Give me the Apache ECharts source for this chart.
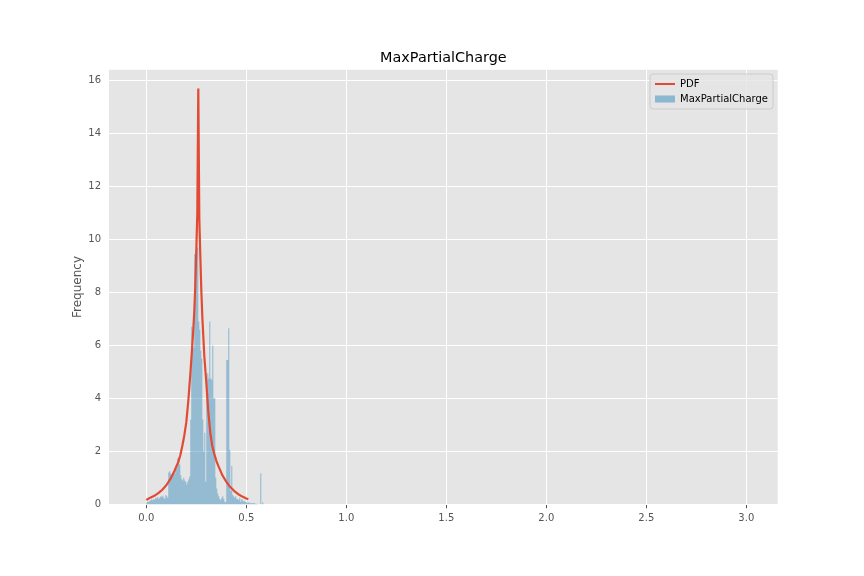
<!DOCTYPE html>
<html>
<head>
<meta charset="utf-8">
<script src="https://cdn.jsdelivr.net/npm/echarts@6/dist/echarts.min.js"></script>
<style>html,body{margin:0;padding:0;background:#fff;}#c{width:864px;height:576px;}</style>
</head>
<body>
<div id="c"></div>
<script>
// ---- data ----
const titleText = 'MaxPartialCharge';
const yAxisName = 'Frequency';
const histName = 'MaxPartialCharge';
const pdfName = 'PDF';
const binStart = 0.0;
const binWidth = 0.005;
const binHeights = [
  0.08,0.10,0.10,0.12,0.15,0.18,0.15,0.20,0.17,0.25,
  0.22,0.28,0.20,0.25,0.30,0.28,0.32,0.25,0.20,0.35,
  0.30,0.25,1.20,1.25,1.15,1.10,1.10,1.20,1.15,1.30,
  1.35,1.75,1.75,1.50,1.10,0.95,0.90,1.00,0.90,0.85,
  0.75,0.85,0.95,1.05,3.20,6.70,5.95,5.90,9.45,9.45,
  9.70,9.70,6.90,6.60,5.80,5.50,3.20,2.00,2.70,0.85,
  4.70,4.95,4.75,6.90,4.75,4.70,6.00,4.00,4.00,1.00,
  0.60,0.40,0.30,0.20,0.15,0.25,0.30,0.20,0.10,0.08,
  5.45,5.45,6.65,2.05,0.50,1.45,0.35,0.30,0.25,0.30,
  0.20,0.20,0.15,0.25,0.10,0.20,0.15,0.10,0.12,0.08,
  0.10,0.05,0.08,0.05,0.03,0.05,0.04,0.05,0.03,0.02,
  0.01,0.02,0,0,1.17,0,0.08
];
const pdfX = [0.0,0.02,0.04,0.06,0.08,0.10,0.12,0.14,0.16,0.17,0.18,0.19,0.20,0.21,0.22,0.23,0.235,0.24,0.245,0.25,0.255,0.26,0.265,0.27,0.275,0.28,0.29,0.30,0.31,0.32,0.33,0.34,0.35,0.36,0.38,0.40,0.42,0.44,0.46,0.48,0.50,0.51];
const pdfY = [0.16,0.25,0.32,0.42,0.55,0.72,0.95,1.25,1.60,1.85,2.20,2.60,3.10,3.90,4.90,6.00,6.60,7.30,8.30,9.60,11.0,15.7,10.8,9.40,8.10,7.10,5.60,4.60,3.50,2.70,2.20,1.90,1.65,1.45,1.10,0.85,0.65,0.50,0.38,0.29,0.22,0.19];
const xTicks = [0.0,0.5,1.0,1.5,2.0,2.5,3.0];
const yTicks = [0,2,4,6,8,10,12,14,16];
const xMin = -0.1865, xMax = 3.157;
const yMin = 0, yMax = 16.41;

// ---- build ----
const histData = binHeights.map((h, i) => [binStart + i * binWidth, binStart + (i + 1) * binWidth, h]);
const pdfData = pdfX.map((x, i) => [x, pdfY[i]]);
const tickColor = '#555555';
const font = 'DejaVu Sans';

const chart = echarts.init(document.getElementById('c'), null, {renderer: 'canvas'});
chart.setOption({
  animation: false,
  backgroundColor: '#ffffff',
  textStyle: {fontFamily: font},
  title: {
    text: titleText, left: 443.4, top: 51, textAlign: 'center', padding: 0,
    textStyle: {fontFamily: font, fontSize: 14.4, fontWeight: 'normal', color: '#000000'}
  },
  grid: {
    left: 109, right: 86.3, top: 69.7, bottom: 71.7,
    show: true, backgroundColor: '#E5E5E5', borderWidth: 0, containLabel: false
  },
  legend: {
    right: 864 - 773, top: 74, orient: 'vertical', align: 'left',
    backgroundColor: 'rgba(229,229,229,0.8)', borderColor: '#cccccc', borderWidth: 1, borderRadius: 3,
    padding: [4, 5, 4, 5], itemWidth: 20, itemHeight: 7, itemGap: 3,
    textStyle: {fontFamily: font, fontSize: 10, color: '#000000', lineHeight: 12},
    data: [
      {name: pdfName, icon: 'path://M0,0 L20,0 L20,2 L0,2 Z'},
      {name: histName, icon: 'rect'}
    ]
  },
  xAxis: {
    type: 'value', min: xMin, max: xMax,
    axisLine: {show: false},
    splitLine: {show: false},
    axisTick: {show: true, customValues: xTicks, length: 4, lineStyle: {color: tickColor, width: 1}},
    axisLabel: {customValues: xTicks, color: tickColor, fontSize: 10, fontFamily: font, margin: 9,
      formatter: v => v.toFixed(1)}
  },
  yAxis: {
    type: 'value', min: yMin, max: yMax,
    name: yAxisName, nameLocation: 'middle', nameGap: 25, nameRotate: 90, nameMoveOverlap: false,
    nameTextStyle: {color: tickColor, fontSize: 12, fontFamily: font},
    axisLine: {show: false},
    splitLine: {show: false},
    axisTick: {show: true, customValues: yTicks, length: 4, lineStyle: {color: tickColor, width: 1}},
    axisLabel: {customValues: yTicks, color: tickColor, fontSize: 10, fontFamily: font, margin: 8,
      formatter: v => String(Math.round(v))}
  },
  series: [
    {
      type: 'line', data: [], z: 1, silent: true,
      markLine: {
        silent: true, symbol: 'none', z: 1, animation: false,
        label: {show: false},
        lineStyle: {color: '#ffffff', width: 1, type: 'solid'},
        emphasis: {disabled: true},
        data: xTicks.map(v => ({xAxis: v})).concat(yTicks.map(v => ({yAxis: v})))
      }
    },
    {
      name: histName, type: 'custom', z: 2,
      itemStyle: {color: 'rgba(52,138,189,0.5)'},
      encode: {x: [0, 1], y: 2},
      data: histData,
      renderItem: function (params, api) {
        const p0 = api.coord([api.value(0), 0]);
        const p1 = api.coord([api.value(1), api.value(2)]);
        return {
          type: 'rect',
          shape: {x: p0[0], y: p1[1], width: p1[0] - p0[0], height: p0[1] - p1[1]},
          style: {fill: 'rgba(52,138,189,0.5)'}
        };
      }
    },
    {
      name: pdfName, type: 'line', z: 3, data: pdfData,
      showSymbol: false, symbol: 'none',
      lineStyle: {color: '#E24A33', width: 2.2},
      itemStyle: {color: '#E24A33'}
    }
  ]
});
</script>
</body>
</html>
